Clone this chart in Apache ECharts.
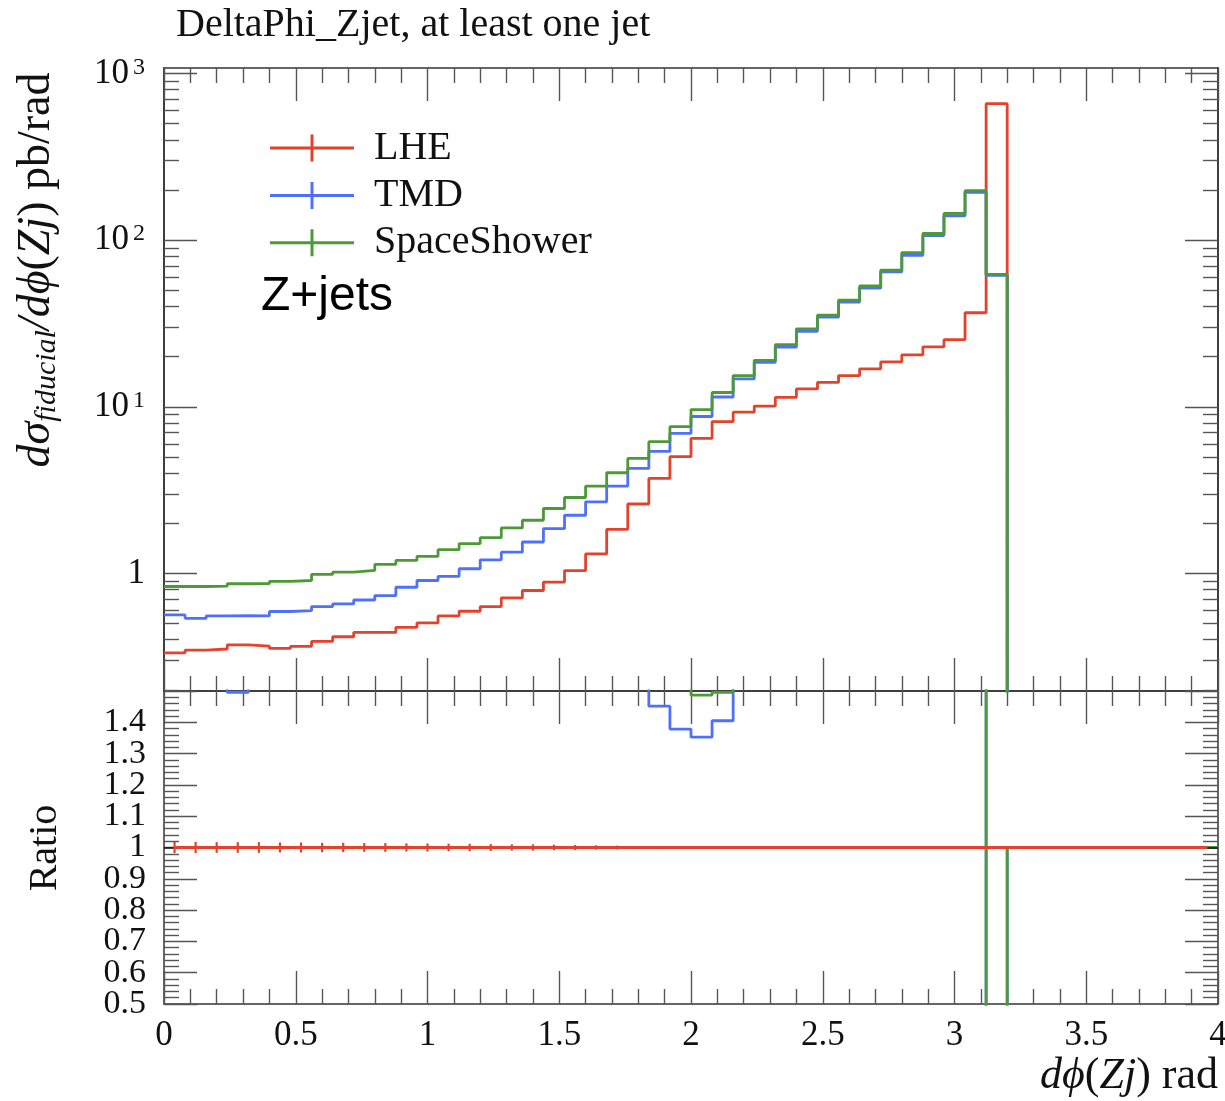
<!DOCTYPE html>
<html>
<head>
<meta charset="utf-8">
<script src="https://cdn.jsdelivr.net/npm/echarts@6/dist/echarts.min.js"></script>
<style>
  html, body { margin: 0; padding: 0; background: #ffffff; }
  #chart { width: 1225px; height: 1101px; }
</style>
</head>
<body>
<div id="chart"></div>
<script>
// Bin edges of the DeltaPhi(Z, jet) histogram (rad), 50 bins of 0.08
const binEdges = [0, 0.08, 0.16, 0.24, 0.32, 0.4, 0.48, 0.56, 0.64, 0.72,
  0.8, 0.88, 0.96, 1.04, 1.12, 1.2, 1.28, 1.36, 1.44, 1.52,
  1.6, 1.68, 1.76, 1.84, 1.92, 2.0, 2.08, 2.16, 2.24, 2.32,
  2.4, 2.48, 2.56, 2.64, 2.72, 2.8, 2.88, 2.96, 3.04, 3.12,
  3.2, 3.28, 3.36, 3.44, 3.52, 3.6, 3.68, 3.76, 3.84, 3.92, 4.0];

// dsigma/dphi (pb/rad) per bin
const lheValues = [0.334, 0.347, 0.352, 0.373, 0.366, 0.355, 0.365, 0.391, 0.417, 0.443,
  0.443, 0.475, 0.505, 0.556, 0.593, 0.633, 0.714, 0.790, 0.887, 1.04,
  1.31, 1.84, 2.61, 3.72, 5.02, 6.47, 8.15, 9.29, 10.1, 11.4,
  12.8, 14.0, 15.4, 16.9, 18.6, 20.5, 22.9, 25.3, 36.7, 660,
  0, 0, 0, 0, 0, 0, 0, 0, 0, 0];

const tmdValues = [0.564, 0.538, 0.556, 0.558, 0.557, 0.591, 0.598, 0.633, 0.656, 0.693,
  0.736, 0.826, 0.907, 0.959, 1.067, 1.207, 1.342, 1.544, 1.857, 2.235,
  2.69, 3.34, 4.27, 5.40, 6.92, 8.75, 11.45, 14.7, 18.5, 22.8,
  28.4, 34.5, 42.5, 51.5, 64.5, 81.2, 106.6, 140.2, 193.8, 61.6,
  0, 0, 0, 0, 0, 0, 0, 0, 0, 0];

const showerValues = [0.835, 0.835, 0.840, 0.867, 0.870, 0.895, 0.907, 0.986, 1.018, 1.043,
  1.133, 1.197, 1.266, 1.389, 1.510, 1.640, 1.875, 2.085, 2.453, 2.857,
  3.34, 4.02, 4.90, 6.18, 7.60, 9.62, 12.19, 15.4, 19.0, 23.6,
  29.4, 35.5, 43.7, 53.1, 66.2, 84.3, 109.7, 144.8, 198, 62.4,
  0, 0, 0, 0, 0, 0, 0, 0, 0, 0];

// relative statistical uncertainty of the LHE reference, shown in the ratio panel
const lheRelErr = [0.018, 0.018, 0.017, 0.017, 0.017, 0.016, 0.016, 0.015, 0.015, 0.014,
  0.014, 0.013, 0.013, 0.012, 0.012, 0.011, 0.010, 0.010, 0.009, 0.008,
  0.007, 0.006, 0.005, 0.005, 0.004, 0.004, 0.003, 0.003, 0.003, 0.003,
  0.003, 0.003, 0.002, 0.002, 0.002, 0.002, 0.002, 0.002, 0.002, 0.001,
  0, 0, 0, 0, 0, 0, 0, 0, 0, 0];

const seriesNames = ['LHE', 'TMD', 'SpaceShower'];
const seriesColors = ['#e4422b', '#4f70fa', '#4c9a36'];

// axis tick positions and labels
const logMajorTicks = [1, 10, 100, 1000];
const logMinorTicks = [0.2, 0.3, 0.4, 0.5, 0.6, 0.7, 0.8, 0.9,
  2, 3, 4, 5, 6, 7, 8, 9,
  20, 30, 40, 50, 60, 70, 80, 90,
  200, 300, 400, 500, 600, 700, 800, 900];
// ratio labels, split over two label rows so neighbouring labels never collide
const ratioLabelsOdd = [0.5, 0.7, 0.9, 1.1, 1.3];
const ratioLabelsEven = [0.6, 0.8, 1, 1.2, 1.4];

const Y_MIN = 0.197, Y_MAX = 1080;
const SERIF = '"Liberation Serif", "Times New Roman", serif';
const FRAME = '#333333';
const TICK = '#555555';
const LINE_W = 2.8;

// histogram outline as (edge, value) pairs; drops below the axis floor after the last filled bin
function histOutline(vals, floor) {
  const pts = [];
  for (let i = 0; i < vals.length; i++) {
    const v = vals[i];
    if (v !== null && v > 0) {
      pts.push([binEdges[i], v], [binEdges[i + 1], v]);
    } else if (i > 0 && vals[i - 1] > 0) {
      pts.push([binEdges[i], floor]);
      break;
    }
  }
  return pts;
}
function ratioOutline(vals) {
  const pts = [];
  for (let i = 0; i < vals.length; i++) {
    pts.push([binEdges[i], vals[i]], [binEdges[i + 1], vals[i]]);
  }
  return pts;
}
function ratioTo(vals) {
  return vals.map((v, i) => lheValues[i] > 0 ? v / lheValues[i] : (v === 0 ? 1 : null));
}
const binCenters = lheValues.map((_, i) => (binEdges[i] + binEdges[i + 1]) / 2);

function xAxisDef(grid, pos, labels) {
  return {
    type: 'value', gridIndex: grid, position: pos, min: 0, max: 4, interval: 0.5,
    axisLine: { show: true, onZero: false, lineStyle: { color: FRAME, width: 1.5 } },
    axisTick: { show: true, inside: true, length: 33, lineStyle: { color: TICK, width: 1.4 } },
    minorTick: { show: true, splitNumber: 5, length: 15, lineStyle: { color: TICK, width: 1.4 } },
    splitLine: { show: false }, minorSplitLine: { show: false },
    axisLabel: labels ? {
      show: true, margin: 14, fontFamily: SERIF, fontSize: 35, color: '#111',
      hideOverlap: false, showMinLabel: true, showMaxLabel: true
    } : { show: false }
  };
}
function logAxisDef(pos, ticks, len, labels) {
  return {
    type: 'log', logBase: 10, gridIndex: 0, position: pos, min: Y_MIN, max: Y_MAX,
    axisLine: { show: true, onZero: false, lineStyle: { color: FRAME, width: 1.5 } },
    axisTick: { show: true, inside: true, length: len, customValues: ticks, lineStyle: { color: TICK, width: 1.4 } },
    minorTick: { show: false }, splitLine: { show: false }, minorSplitLine: { show: false },
    axisLabel: labels ? {
      show: true, customValues: logMajorTicks, margin: 19, hideOverlap: false,
      formatter: v => {
        const e = Math.round(Math.log10(v));
        return e === 0 ? '{b|1}' : '{b|10}{s|' + e + '}';
      },
      rich: {
        b: { fontFamily: SERIF, fontSize: 35, color: '#111', lineHeight: 36 },
        s: { fontFamily: SERIF, fontSize: 24, color: '#111', lineHeight: 14, verticalAlign: 'top', padding: [0, 0, 0, 4] }
      }
    } : { show: false }
  };
}
function ratioAxisDef(pos, labelValues, withTicks) {
  return {
    type: 'value', gridIndex: 1, position: pos, min: 0.5, max: 1.5, interval: 0.1,
    axisLine: { show: withTicks, onZero: false, lineStyle: { color: FRAME, width: 1.5 } },
    axisTick: { show: withTicks, inside: true, length: 33, lineStyle: { color: TICK, width: 1.4 } },
    minorTick: { show: withTicks, splitNumber: 5, length: 15, lineStyle: { color: TICK, width: 1.4 } },
    splitLine: { show: false }, minorSplitLine: { show: false },
    axisLabel: labelValues ? {
      show: true, customValues: labelValues, margin: 18, fontFamily: SERIF, fontSize: 34,
      color: '#111', hideOverlap: false, showMinLabel: true, showMaxLabel: true
    } : { show: false }
  };
}

const LOG_FLOOR = Y_MIN / 10;
const mainSeries = [lheValues, tmdValues, showerValues].map((vals, k) => ({
  type: 'line', name: seriesNames[k], xAxisIndex: 0, yAxisIndex: 0,
  data: histOutline(vals, LOG_FLOOR), showSymbol: false, symbol: 'none',
  color: seriesColors[k], lineStyle: { color: seriesColors[k], width: LINE_W },
  clip: true, z: 2 + k, silent: true
}));

const tmdRatio = ratioTo(tmdValues);
const showerRatio = ratioTo(showerValues);

const ratioSeries = [
  {
    type: 'line', name: 'TMD / LHE', xAxisIndex: 2, yAxisIndex: 4,
    data: ratioOutline(tmdRatio), showSymbol: false, symbol: 'none',
    lineStyle: { color: seriesColors[1], width: LINE_W }, color: seriesColors[1], clip: true, z: 2, silent: true
  },
  {
    type: 'line', name: 'SpaceShower / LHE', xAxisIndex: 2, yAxisIndex: 4,
    data: ratioOutline(showerRatio), showSymbol: false, symbol: 'none',
    lineStyle: { color: seriesColors[2], width: LINE_W }, color: seriesColors[2], clip: true, z: 3, silent: true,
    markLine: {
      silent: true, symbol: 'none', label: { show: false }, z: 5,
      lineStyle: { color: '#111', width: 1.5, type: 'solid' },
      data: [{ yAxis: 1 }]
    }
  },
  {
    type: 'line', name: 'LHE / LHE', xAxisIndex: 2, yAxisIndex: 4,
    data: binCenters.map(c => [c, 1]), showSymbol: false, symbol: 'none',
    lineStyle: { color: seriesColors[0], width: LINE_W }, color: seriesColors[0], clip: true, z: 10, silent: true
  },
  {
    type: 'custom', name: 'LHE uncertainty', xAxisIndex: 2, yAxisIndex: 4, z: 10, silent: true,
    data: binCenters.map((c, i) => [c, lheRelErr[i]]).filter(d => d[1] > 0),
    encode: { x: 0, y: 1 },
    renderItem: (params, api) => {
      const x = api.value(0), e = api.value(1);
      const lo = api.coord([x, 1 - e]), hi = api.coord([x, 1 + e]);
      return {
        type: 'line',
        shape: { x1: lo[0], y1: lo[1], x2: hi[0], y2: hi[1] },
        style: { stroke: seriesColors[0], lineWidth: 2.2 }
      };
    }
  }
];

const option = {
  animation: false,
  backgroundColor: '#ffffff',
  grid: [
    { left: 164, top: 68, width: 1054, height: 623, containLabel: false, outerBoundsMode: 'none' },
    { left: 164, top: 691, width: 1054, height: 313, containLabel: false, outerBoundsMode: 'none' }
  ],
  xAxis: [
    xAxisDef(0, 'bottom', false),
    xAxisDef(0, 'top', false),
    xAxisDef(1, 'bottom', true),
    xAxisDef(1, 'top', false)
  ],
  yAxis: [
    logAxisDef('left', logMajorTicks, 33, true),
    logAxisDef('left', logMinorTicks, 15, false),
    logAxisDef('right', logMajorTicks, 33, false),
    logAxisDef('right', logMinorTicks, 15, false),
    ratioAxisDef('left', ratioLabelsOdd, true),
    ratioAxisDef('right', null, true),
    ratioAxisDef('left', ratioLabelsEven, false)
  ],
  legend: {
    data: seriesNames, orient: 'vertical', left: 265, top: 123,
    itemWidth: 84, itemHeight: 27, itemGap: 7.4, selectedMode: false,
    icon: 'path://M0,12L84,12L84,15L0,15Z M40.5,0L43.5,0L43.5,27L40.5,27Z',
    textStyle: { fontFamily: SERIF, fontSize: 40, color: '#111', lineHeight: 27, padding: [0, 0, 0, 15] }
  },
  graphic: [
    {
      type: 'text', left: 176, top: 5,
      style: { text: 'DeltaPhi_Zjet, at least one jet', fontFamily: SERIF, fontSize: 40, fill: '#111' }
    },
    {
      type: 'text', left: 261, top: 273,
      style: { text: 'Z+jets', fontFamily: '"Liberation Sans", Arial, sans-serif', fontSize: 48, fill: '#000' }
    },
    {
      type: 'text', x: 37, y: 270, rotation: Math.PI / 2,
      style: {
        text: '{i|dσ}{sub|fiducial}{i|/dϕ}{r|(}{i|Zj}{r|) pb/rad}',
        align: 'center', verticalAlign: 'middle', fill: '#111',
        rich: {
          i: { fontFamily: SERIF, fontStyle: 'italic', fontSize: 46, lineHeight: 50, fill: '#111' },
          r: { fontFamily: SERIF, fontSize: 46, lineHeight: 50, fill: '#111' },
          sub: { fontFamily: SERIF, fontStyle: 'italic', fontSize: 30, lineHeight: 22, verticalAlign: 'bottom', fill: '#111' }
        }
      }
    },
    {
      type: 'text', x: 45, y: 848, rotation: Math.PI / 2,
      style: { text: 'Ratio', align: 'center', verticalAlign: 'middle', fontFamily: SERIF, fontSize: 40, fill: '#111' }
    },
    {
      type: 'text', right: 7, top: 1054,
      style: {
        text: '{i|dϕ}{r|(}{i|Zj}{r|) rad}', fill: '#111',
        rich: {
          i: { fontFamily: SERIF, fontStyle: 'italic', fontSize: 44, lineHeight: 46, fill: '#111' },
          r: { fontFamily: SERIF, fontSize: 44, lineHeight: 46, fill: '#111' }
        }
      }
    }
  ],
  series: mainSeries.concat(ratioSeries)
};

const chart = echarts.init(document.getElementById('chart'), null, { renderer: 'canvas' });
chart.setOption(option);
</script>
</body>
</html>
